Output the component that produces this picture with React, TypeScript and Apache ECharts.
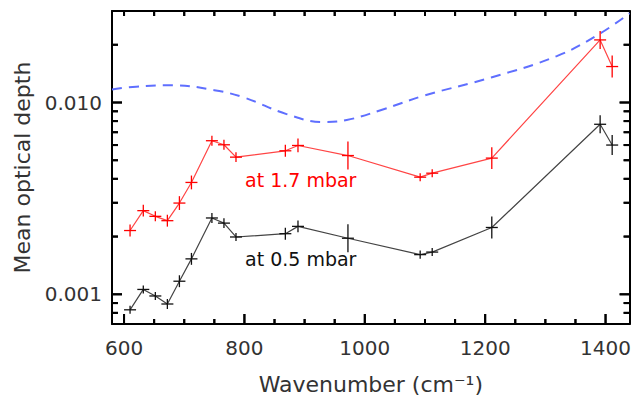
import React, { useEffect, useRef } from "react";
import * as echarts from "echarts";

// Wavenumbers (cm^-1) of the retrieved points
const wavenumbers = [610, 632, 652, 672, 692, 712, 746, 766, 786, 868, 889, 972, 1092, 1112, 1211, 1391, 1411];
// Mean optical depth at 1.7 mbar (red)
const tau17 = [0.00215, 0.00273, 0.00255, 0.00242, 0.00299, 0.00383, 0.00632, 0.00602, 0.00519, 0.0056, 0.00597, 0.00529, 0.00408, 0.00428, 0.00513, 0.0212, 0.0154];
// half-length of error bars, in dex
const err17 = [0.031, 0.031, 0.026, 0.031, 0.036, 0.036, 0.026, 0.026, 0.026, 0.031, 0.036, 0.073, 0.021, 0.021, 0.057, 0.047, 0.057];
// Mean optical depth at 0.5 mbar (black)
const tau05 = [0.00083, 0.00106, 0.00098, 0.00089, 0.00117, 0.00153, 0.0025, 0.00235, 0.00199, 0.00207, 0.00226, 0.00196, 0.00161, 0.00166, 0.00223, 0.0077, 0.006];
const err05 = [0.021, 0.021, 0.021, 0.026, 0.031, 0.031, 0.026, 0.026, 0.021, 0.031, 0.031, 0.073, 0.021, 0.021, 0.057, 0.047, 0.052];
// Dashed blue reference curve
const curveX = [580, 620, 680, 750, 800, 870, 930, 970, 1030, 1100, 1210, 1320, 1390, 1440];
const curveY = [0.0117, 0.0121, 0.0123, 0.0116, 0.0106, 0.0087, 0.0079, 0.0081, 0.0092, 0.0109, 0.0135, 0.0175, 0.0228, 0.0292];

// Axis ticks
const xMajor = [600, 800, 1000, 1200, 1400];
const xMinor = [650, 700, 750, 850, 900, 950, 1050, 1100, 1150, 1250, 1300, 1350];
const yMajor = [0.001, 0.01];
const yMinor = [0.0007, 0.0008, 0.0009, 0.002, 0.003, 0.004, 0.005, 0.006, 0.007, 0.008, 0.009, 0.02, 0.03];

const X_MIN = 580;
const X_MAX = 1440;
const Y_MIN = 0.0007;
const Y_MAX = 0.03;
const FONT = "DejaVu Sans";

const GRID_LEFT = 112;
const GRID_RIGHT = 2;
const GRID_TOP = 11;
const GRID_BOTTOM = 82;
const W = 634;
const H = 406;

function errorBarSeries(xs: number[], ys: number[], es: number[], color: string) {
  return {
    type: "custom",
    xAxisIndex: 0,
    yAxisIndex: 0,
    clip: true,
    silent: true,
    z: 5,
    data: xs.map((x, i) => [x, ys[i], es[i]]),
    encode: { x: 0, y: 1 },
    renderItem: (params: any, api: any) => {
      const x = api.value(0);
      const y = api.value(1);
      const e = api.value(2);
      const f = Math.pow(10, e);
      const c = api.coord([x, y]);
      const lo = api.coord([x, y / f]);
      const hi = api.coord([x, y * f]);
      const hw = 6;
      return {
        type: "group",
        children: [
          {
            type: "line",
            shape: { x1: c[0], y1: lo[1], x2: c[0], y2: hi[1] },
            style: { stroke: color, lineWidth: 1.3 },
          },
          {
            type: "line",
            shape: { x1: c[0] - hw, y1: c[1], x2: c[0] + hw, y2: c[1] },
            style: { stroke: color, lineWidth: 1.3 },
          },
        ],
      };
    },
  };
}

// Tick marks drawn by a custom series through the axes' own scales
function xTickSeries() {
  const data = [...xMajor.map((v) => [v, 0.005, 10, 5]), ...xMinor.map((v) => [v, 0.005, 5, 5])];
  return {
    type: "custom",
    xAxisIndex: 0,
    yAxisIndex: 0,
    clip: false,
    silent: true,
    z: 6,
    data,
    encode: { x: 0, y: 1 },
    renderItem: (params: any, api: any) => {
      const v = api.value(0);
      const lb = api.value(2);
      const lt = api.value(3);
      const b = api.coord([v, Y_MIN]);
      const t = api.coord([v, Y_MAX]);
      return {
        type: "group",
        children: [
          { type: "line", shape: { x1: b[0], y1: b[1], x2: b[0], y2: b[1] - lb }, style: { stroke: "#000", lineWidth: 2 } },
          { type: "line", shape: { x1: t[0], y1: t[1], x2: t[0], y2: t[1] + lt }, style: { stroke: "#000", lineWidth: 2 } },
        ],
      };
    },
  };
}

function yTickSeries() {
  const data = [...yMajor.map((v) => [1000, v, 10]), ...yMinor.map((v) => [1000, v, 6])];
  return {
    type: "custom",
    xAxisIndex: 0,
    yAxisIndex: 0,
    clip: false,
    silent: true,
    z: 6,
    data,
    encode: { x: 0, y: 1 },
    renderItem: (params: any, api: any) => {
      const v = api.value(1);
      const len = api.value(2);
      const l = api.coord([X_MIN, v]);
      const r = api.coord([X_MAX, v]);
      return {
        type: "group",
        children: [
          { type: "line", shape: { x1: l[0], y1: l[1], x2: l[0] + len, y2: l[1] }, style: { stroke: "#000", lineWidth: 2 } },
          { type: "line", shape: { x1: r[0], y1: r[1], x2: r[0] - len, y2: r[1] }, style: { stroke: "#000", lineWidth: 2 } },
        ],
      };
    },
  };
}

export default function App() {
  const ref = useRef<HTMLDivElement>(null);
  useEffect(() => {
    if (!ref.current) return;
    const chart = echarts.init(ref.current, null, { renderer: "svg" });
    const mkAxisLine = () => ({ show: true, lineStyle: { color: "#000", width: 2 } });
    chart.setOption({
      animation: false,
      backgroundColor: "#fff",
      grid: { left: GRID_LEFT, right: GRID_RIGHT, top: GRID_TOP, bottom: GRID_BOTTOM, containLabel: false },
      xAxis: [
        {
          type: "value",
          min: X_MIN,
          max: X_MAX,
          splitLine: { show: false },
          position: "bottom",
          axisLine: mkAxisLine(),
          axisTick: { show: false },
          axisLabel: {
            show: true,
            customValues: xMajor,
            formatter: (v: number) => String(v),
            fontSize: 20,
            fontFamily: FONT,
            color: "#333",
            margin: 14,
          },
          name: "Wavenumber (cm⁻¹)",
          nameLocation: "middle",
          nameGap: 49,
          nameTextStyle: { fontSize: 22, fontFamily: FONT, color: "#333" },
        },
        {
          type: "value",
          min: X_MIN,
          max: X_MAX,
          splitLine: { show: false },
          position: "top",
          axisLine: mkAxisLine(),
          axisTick: { show: false },
          axisLabel: { show: false },
        },
      ],
      yAxis: [
        {
          type: "log",
          logBase: 10,
          min: Y_MIN,
          max: Y_MAX,
          splitLine: { show: false },
          position: "left",
          axisLine: mkAxisLine(),
          axisTick: { show: false },
          axisLabel: {
            show: true,
            customValues: yMajor,
            formatter: (v: number) => v.toFixed(3),
            fontSize: 20,
            fontFamily: FONT,
            color: "#333",
            margin: 10,
          },
          name: "Mean optical depth",
          nameLocation: "middle",
          nameGap: 72,
          nameRotate: 90,
          nameTextStyle: { fontSize: 22, fontFamily: FONT, color: "#333" },
        },
        {
          type: "log",
          logBase: 10,
          min: Y_MIN,
          max: Y_MAX,
          splitLine: { show: false },
          position: "right",
          axisLine: mkAxisLine(),
          axisTick: { show: false },
          axisLabel: { show: false },
        },
      ],
      series: [
        {
          type: "line",
          name: "reference",
          xAxisIndex: 0,
          yAxisIndex: 0,
          smooth: 0.4,
          symbol: "none",
          clip: true,
          data: curveX.map((x, i) => [x, curveY[i]]),
          lineStyle: { color: "#5f6fff", width: 2, type: [10, 7] },
        },
        {
          type: "line",
          name: "1.7 mbar",
          xAxisIndex: 0,
          yAxisIndex: 0,
          symbol: "none",
          data: wavenumbers.map((x, i) => [x, tau17[i]]),
          lineStyle: { color: "#ff4545", width: 1.2 },
        },
        errorBarSeries(wavenumbers, tau17, err17, "#ff0000"),
        {
          type: "line",
          name: "0.5 mbar",
          xAxisIndex: 0,
          yAxisIndex: 0,
          symbol: "none",
          data: wavenumbers.map((x, i) => [x, tau05[i]]),
          lineStyle: { color: "#444", width: 1.2 },
        },
        errorBarSeries(wavenumbers, tau05, err05, "#111"),
        xTickSeries(),
        yTickSeries(),
      ],
    });

    // Second set of the same ticks as graphic rects (positions from the axes, with a scale fallback)
    const gw = W - GRID_LEFT - GRID_RIGHT;
    const gh = H - GRID_TOP - GRID_BOTTOM;
    const lMin = Math.log10(Y_MIN);
    const lMax = Math.log10(Y_MAX);
    const pxX = (v: number) => {
      let p = NaN;
      try {
        p = Number(chart.convertToPixel({ xAxisIndex: 0 }, v));
      } catch (e) {
        p = NaN;
      }
      return isFinite(p) ? p : GRID_LEFT + ((v - X_MIN) / (X_MAX - X_MIN)) * gw;
    };
    const pxY = (v: number) => {
      let p = NaN;
      try {
        p = Number(chart.convertToPixel({ yAxisIndex: 0 }, v));
      } catch (e) {
        p = NaN;
      }
      return isFinite(p) ? p : GRID_TOP + gh - ((Math.log10(v) - lMin) / (lMax - lMin)) * gh;
    };
    const left = pxX(X_MIN);
    const right = pxX(X_MAX);
    const bottom = pxY(Y_MIN);
    const top = pxY(Y_MAX);
    const ticks: any[] = [];
    const addRect = (x: number, y: number, width: number, height: number) => {
      ticks.push({ type: "rect", shape: { x, y, width, height }, style: { fill: "#000" } });
    };
    xMajor.forEach((v) => {
      const x = pxX(v);
      addRect(x - 1, bottom - 10, 2, 10);
      addRect(x - 1, top, 2, 5);
    });
    xMinor.forEach((v) => {
      const x = pxX(v);
      addRect(x - 1, bottom - 5, 2, 5);
      addRect(x - 1, top, 2, 5);
    });
    yMajor.forEach((v) => {
      const y = pxY(v);
      addRect(left, y - 1, 10, 2);
      addRect(right - 10, y - 1, 10, 2);
    });
    yMinor.forEach((v) => {
      const y = pxY(v);
      addRect(left, y - 1, 6, 2);
      addRect(right - 6, y - 1, 6, 2);
    });

    chart.setOption({
      graphic: [
        {
          type: "text",
          left: 245,
          top: 170,
          style: { text: "at 1.7 mbar", fill: "#ff0000", font: `19px "${FONT}"` },
        },
        {
          type: "text",
          left: 245,
          top: 249,
          style: { text: "at 0.5 mbar", fill: "#111", font: `19px "${FONT}"` },
        },
        ...ticks,
      ],
    });
    return () => chart.dispose();
  }, []);
  return <div ref={ref} style={{ position: "fixed", left: 0, top: 0, width: W, height: H }} />;
}
